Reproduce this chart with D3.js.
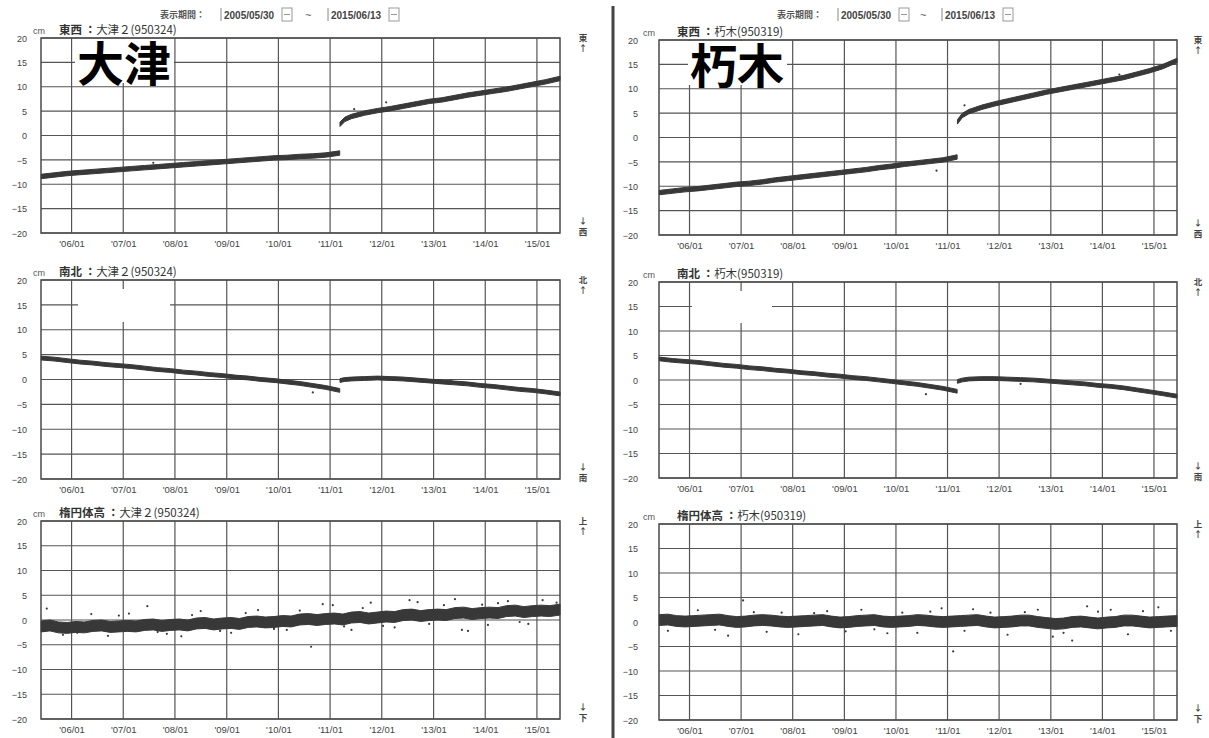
<!DOCTYPE html>
<html>
<head>
<meta charset="utf-8">
<script src="https://cdnjs.cloudflare.com/ajax/libs/d3/7.8.5/d3.min.js"></script>
<style>
  body { margin: 0; background: #fff; position: relative; }
  svg { display: block; }
  svg text { font-family: "Liberation Sans", Arial, "Noto Sans CJK JP", sans-serif; fill: #333; }
  .jp { font-family: "Noto Sans CJK JP", sans-serif; }
  .grid line { stroke: #555; stroke-width: 1.2; }
  .frame { fill: none; stroke: #4a4a4a; stroke-width: 1.5; }
  .tick text { font-size: 9px; fill: #444; }
  .band { fill: #383838; stroke: #383838; stroke-width: 1; }
  .dot { fill: #3a3a3a; }
  .bigname { position: absolute; font-family: "Noto Sans CJK JP", sans-serif; font-weight: bold;
             font-size: 47px; line-height: 44px; height: 44px; background: #fff; color: #000;
             padding: 0 3px 0 2px; white-space: nowrap; }
</style>
</head>
<body>
<svg id="chart" width="1209" height="738"></svg>
<script>
// GNSS displacement (cm), 2005/05/30 - 2015/06/13, two stations, three components

const startDate = "2005-05-30", endDate = "2015-06-13";
const yTicks = [-20, -15, -10, -5, 0, 5, 10, 15, 20];
const xTickDates = ["2006-01", "2007-01", "2008-01", "2009-01", "2010-01",
                    "2011-01", "2012-01", "2013-01", "2014-01", "2015-01"];
const components = ["東西", "南北", "楕円体高"];
const arrowChars = [["東", "西"], ["北", "南"], ["上", "下"]];
const stations = ["大津２(950324)", "朽木(950319)"];
const bigNames = ["大津", "朽木"];

// quarterly samples before / after the 2011-03-11 offset
const preDates = ["2005-06", "2005-09", "2005-12", "2006-03", "2006-06", "2006-09", "2006-12",
  "2007-03", "2007-06", "2007-09", "2007-12", "2008-03", "2008-06", "2008-09", "2008-12",
  "2009-03", "2009-06", "2009-09", "2009-12", "2010-03", "2010-06", "2010-09", "2010-12", "2011-03-10"];
const postDates = ["2011-03-12", "2011-04-15", "2011-06", "2011-09", "2011-12",
  "2012-03", "2012-06", "2012-09", "2012-12", "2013-03", "2013-06", "2013-09", "2013-12",
  "2014-03", "2014-06", "2014-09", "2014-12", "2015-03", "2015-06-13"];

const ewOtsuPre = [-8.4, -8.1, -7.8, -7.6, -7.4, -7.2, -7.0, -6.8, -6.6, -6.4, -6.2, -6.0, -5.8,
  -5.6, -5.4, -5.2, -5.0, -4.8, -4.6, -4.5, -4.3, -4.2, -4.0, -3.6];
const ewOtsuPost = [2.3, 3.3, 3.9, 4.6, 5.1, 5.5, 6.0, 6.5, 7.0, 7.3, 7.8, 8.3, 8.7,
  9.1, 9.5, 10.0, 10.5, 11.0, 11.7];
const ewKutsukiPre = [-11.3, -11.0, -10.7, -10.5, -10.2, -9.9, -9.6, -9.4, -9.1, -8.7, -8.4, -8.1,
  -7.8, -7.5, -7.2, -6.9, -6.6, -6.2, -5.9, -5.5, -5.2, -4.9, -4.6, -4.0];
const ewKutsukiPost = [3.2, 4.5, 5.3, 6.2, 6.9, 7.5, 8.1, 8.7, 9.3, 9.8, 10.3, 10.8, 11.3,
  11.8, 12.3, 13.0, 13.7, 14.5, 15.8];

const nsOtsuPre = [4.3, 4.1, 3.8, 3.5, 3.3, 3.0, 2.8, 2.6, 2.3, 2.0, 1.8, 1.5, 1.3, 1.0, 0.8,
  0.5, 0.3, 0.0, -0.2, -0.5, -0.8, -1.2, -1.6, -2.2];
const nsOtsuPost = [-0.2, 0.0, 0.1, 0.2, 0.3, 0.2, 0.1, -0.1, -0.3, -0.5, -0.7, -0.9, -1.2,
  -1.4, -1.7, -2.0, -2.2, -2.5, -2.9];
const nsKutsukiPre = [4.3, 4.0, 3.8, 3.6, 3.3, 3.0, 2.8, 2.5, 2.3, 2.0, 1.8, 1.5, 1.3, 1.0, 0.8,
  0.5, 0.3, 0.0, -0.3, -0.6, -0.9, -1.3, -1.7, -2.3];
const nsKutsukiPost = [-0.3, 0.0, 0.2, 0.3, 0.3, 0.2, 0.1, 0.0, -0.2, -0.4, -0.6, -0.8, -1.1,
  -1.3, -1.6, -2.0, -2.4, -2.8, -3.3];

// bimonthly samples for ellipsoidal height
const upDates = ["2005-06", "2005-08", "2005-10", "2005-12",
  "2006-02", "2006-04", "2006-06", "2006-08", "2006-10", "2006-12",
  "2007-02", "2007-04", "2007-06", "2007-08", "2007-10", "2007-12",
  "2008-02", "2008-04", "2008-06", "2008-08", "2008-10", "2008-12",
  "2009-02", "2009-04", "2009-06", "2009-08", "2009-10", "2009-12",
  "2010-02", "2010-04", "2010-06", "2010-08", "2010-10", "2010-12",
  "2011-02", "2011-04", "2011-06", "2011-08", "2011-10", "2011-12",
  "2012-02", "2012-04", "2012-06", "2012-08", "2012-10", "2012-12",
  "2013-02", "2013-04", "2013-06", "2013-08", "2013-10", "2013-12",
  "2014-02", "2014-04", "2014-06", "2014-08", "2014-10", "2014-12",
  "2015-02", "2015-04", "2015-06-13"];
const upOtsu = [-1.3, -1.1, -1.5, -1.6,
  -1.4, -1.5, -1.2, -1.1, -1.4, -1.3,
  -1.2, -1.3, -1.0, -0.9, -1.2, -1.0,
  -0.9, -1.1, -0.7, -0.6, -0.9, -0.7,
  -0.6, -0.8, -0.4, -0.3, -0.5, -0.4,
  -0.2, -0.3, 0.1, 0.2, 0.0, 0.2,
  0.3, 0.1, 0.5, 0.6, 0.3, 0.5,
  0.7, 0.6, 1.0, 1.1, 0.8, 1.0,
  1.1, 1.0, 1.4, 1.5, 1.2, 1.4,
  1.5, 1.4, 1.8, 1.9, 1.6, 1.8,
  1.9, 1.8, 2.1];
const upKutsuki = [0.4, 0.5, 0.2, 0.1,
  0.2, 0.3, 0.4, 0.5, 0.2, 0.0,
  0.1, 0.3, 0.4, 0.3, 0.1, 0.0,
  0.1, 0.2, 0.3, 0.4, 0.1, -0.1,
  0.0, 0.2, 0.3, 0.4, 0.1, 0.0,
  0.1, 0.2, 0.4, 0.3, 0.1, 0.0,
  0.1, 0.2, 0.3, 0.4, 0.1, -0.1,
  0.0, 0.1, 0.3, 0.3, 0.0, -0.2,
  -0.4, -0.3, 0.0, 0.1, -0.1, -0.3,
  -0.1, 0.0, 0.3, 0.3, 0.1, -0.1,
  0.0, 0.1, 0.2];

// scattered points outside the main band
const dotsOtsuUp = [["2005-07-10", 2.3], ["2005-11-01", -3.0], ["2006-02-10", -2.6], ["2006-05-20", 1.2],
  ["2006-09-15", -3.2], ["2006-12-01", 0.9], ["2007-02-10", 1.3], ["2007-06-20", 2.8],
  ["2007-09-01", -2.4], ["2007-11-05", -2.8], ["2008-02-15", -3.3], ["2008-05-01", 1.0],
  ["2008-07-01", 1.8], ["2008-11-15", -2.2], ["2009-02-01", -2.6], ["2009-05-15", 1.4],
  ["2009-08-10", 2.0], ["2009-12-01", -1.8], ["2010-03-01", -2.0], ["2010-06-01", 1.9],
  ["2010-08-20", -5.4], ["2010-11-10", 3.2], ["2011-01-20", 3.0], ["2011-04-10", -1.3],
  ["2011-06-01", -2.0], ["2011-08-20", 2.4], ["2011-10-15", 3.5], ["2012-01-10", -1.2],
  ["2012-04-01", -1.5], ["2012-07-15", 4.0], ["2012-09-10", 3.6], ["2012-12-01", -0.8],
  ["2013-03-15", 3.0], ["2013-06-01", 4.2], ["2013-07-20", -2.0], ["2013-09-01", -2.2],
  ["2013-12-10", 3.1], ["2014-01-20", -1.0], ["2014-04-01", 3.4], ["2014-06-10", 3.8],
  ["2014-09-01", -0.4], ["2014-11-01", -0.8], ["2015-02-10", 4.0], ["2015-05-20", 3.5]];
const dotsKutsukiUp = [["2005-08-01", -1.8], ["2006-03-01", 2.4], ["2006-07-01", -1.6], ["2006-10-01", -2.8],
  ["2007-01-15", 4.4], ["2007-04-01", 2.0], ["2007-07-01", -2.0], ["2007-10-15", 1.9],
  ["2008-02-10", -2.5], ["2008-06-01", 1.8], ["2008-09-01", 2.2], ["2009-01-10", -1.9],
  ["2009-05-01", 2.5], ["2009-08-01", -1.5], ["2009-11-01", -2.3], ["2010-02-15", 1.9],
  ["2010-06-01", -2.2], ["2010-09-01", 2.1], ["2010-11-20", 2.8], ["2011-02-10", -6.0],
  ["2011-05-01", -1.8], ["2011-07-01", 2.6], ["2011-11-01", 1.9], ["2012-03-01", -2.6],
  ["2012-07-01", 2.0], ["2012-10-01", 2.5], ["2013-01-15", -3.0], ["2013-04-01", -2.2],
  ["2013-06-01", -3.8], ["2013-09-15", 3.2], ["2013-12-01", 2.1], ["2014-03-01", 2.5],
  ["2014-07-01", -2.5], ["2014-10-15", 2.2], ["2015-02-01", 3.0], ["2015-05-01", -1.8]];
const dotsOtsuEw = [["2011-06-20", 5.4], ["2012-02-01", 6.8], ["2007-08-01", -5.6]];
const dotsKutsukiEw = [["2010-10-15", -6.8], ["2011-05-01", 6.6], ["2014-05-01", 12.9]];
const dotsOtsuNs = [["2010-09-01", -2.6], ["2013-05-01", -0.2]];
const dotsKutsukiNs = [["2010-08-01", -2.9], ["2012-06-01", -0.8]];

// band half-width (cm) per component
const bandSpread = [0.45, 0.38, 1.1];

const seriesByStation = [
  [[[preDates, ewOtsuPre], [postDates, ewOtsuPost]],
   [[preDates, nsOtsuPre], [postDates, nsOtsuPost]],
   [[upDates, upOtsu]]],
  [[[preDates, ewKutsukiPre], [postDates, ewKutsukiPost]],
   [[preDates, nsKutsukiPre], [postDates, nsKutsukiPost]],
   [[upDates, upKutsuki]]]
];
const dotsByStation = [[dotsOtsuEw, dotsOtsuNs, dotsOtsuUp], [dotsKutsukiEw, dotsKutsukiNs, dotsKutsukiUp]];

// LAYOUT
const columns = [
  { x0: 41, x1: 560, labelX: 27, cmX: 33, arrowX: 583, bigX: 75,
    rows: [[38, 233], [280, 479], [521, 719]], erase: [78, 289, 92, 33],
    head: { label: 160, box1: 221, tilde: 305, box2: 328 } },
  { x0: 659, x1: 1177, labelX: 638, cmX: 643, arrowX: 1198, bigX: 688,
    rows: [[40, 235], [282, 478], [524, 720]], erase: [692, 291, 80, 32],
    head: { label: 777, box1: 838, tilde: 920, box2: 942 } }
];

const parse = s => d3.timeParse("%Y-%m-%d")(s.length === 7 ? s + "-01" : s);
const svg = d3.select("#chart");

// column separator
svg.append("line")
  .attr("x1", 613).attr("x2", 613).attr("y1", 6).attr("y2", 738)
  .style("stroke", "#444").style("stroke-width", 3);

columns.forEach((col, ci) => {
  const x = d3.scaleTime()
    .domain([parse(startDate), parse(endDate)])
    .range([col.x0, col.x1]);

  // header: display period
  const hd = svg.append("g").attr("class", "header");
  hd.append("text").attr("class", "jp")
    .attr("x", col.head.label).attr("y", 18)
    .style("font-size", "9px").style("font-weight", "bold").style("fill", "#555")
    .text("表示期間：");
  [[col.head.box1, startDate], [col.head.box2, endDate]].forEach(([bx, d]) => {
    hd.append("line").attr("x1", bx).attr("x2", bx).attr("y1", 8).attr("y2", 21)
      .style("stroke", "#888");
    hd.append("text").attr("x", bx + 3).attr("y", 19)
      .style("font-size", "10px").style("font-weight", "bold").style("fill", "#444")
      .text(d.replace(/-/g, "/"));
    hd.append("rect").attr("x", bx + 61).attr("y", 8).attr("width", 10).attr("height", 13)
      .style("fill", "#fff").style("stroke", "#999");
    hd.append("line").attr("x1", bx + 63).attr("x2", bx + 69).attr("y1", 14.5).attr("y2", 14.5)
      .style("stroke", "#999");
  });
  hd.append("text").attr("x", col.head.tilde).attr("y", 19)
    .style("font-size", "11px").style("fill", "#555").text("~");

  col.rows.forEach(([top, bot], ri) => {
    const y = d3.scaleLinear().domain([-20, 20]).range([bot, top]);
    const g = svg.append("g");

    // gridlines
    const grid = g.append("g").attr("class", "grid");
    grid.selectAll("line.h").data(yTicks).join("line").attr("class", "h")
      .attr("x1", col.x0).attr("x2", col.x1)
      .attr("y1", d => y(d)).attr("y2", d => y(d));
    grid.selectAll("line.v").data(xTickDates).join("line").attr("class", "v")
      .attr("x1", d => x(parse(d))).attr("x2", d => x(parse(d)))
      .attr("y1", top).attr("y2", bot);
    g.append("rect").attr("class", "frame")
      .attr("x", col.x0).attr("y", top)
      .attr("width", col.x1 - col.x0).attr("height", bot - top);

    // erased patch in the N-S panel
    if (ri === 1) {
      const [ex, ey, ew, eh] = col.erase;
      g.append("rect").attr("x", ex).attr("y", ey).attr("width", ew).attr("height", eh)
        .style("fill", "#fff");
    }

    // big station name on the E-W panel (white box hides the grid behind it)
    if (ri === 0) {
      d3.select("body").append("div").attr("class", "bigname")
        .style("left", col.bigX + "px").style("top", (top + 1) + "px")
        .text(bigNames[ci]);
    }

    // data band
    const spread = bandSpread[ri];
    const area = d3.area()
      .x(d => x(d.date))
      .y0(d => y(d.v - spread))
      .y1(d => y(d.v + spread));
    seriesByStation[ci][ri].forEach(([dates, vals]) => {
      const pts = dates.map((d, i) => ({ date: parse(d), v: vals[i] }));
      g.append("path").datum(pts).attr("class", "band").attr("d", area);
    });
    g.selectAll("circle.dot").data(dotsByStation[ci][ri]).join("circle").attr("class", "dot")
      .attr("cx", d => x(parse(d[0]))).attr("cy", d => y(d[1])).attr("r", 1.1);

    // y axis labels
    g.append("g")
      .attr("transform", `translate(${col.labelX},0)`)
      .call(d3.axisLeft(y).tickValues(yTicks).tickSize(0).tickPadding(0))
      .call(a => a.select(".domain").remove())
      .selectAll("text").attr("dy", "0.35em");

    // x axis labels
    g.append("g")
      .attr("transform", `translate(0,${bot})`)
      .call(d3.axisBottom(x).tickValues(xTickDates.map(parse))
        .tickFormat(d3.timeFormat("'%y/%m")).tickSize(0).tickPadding(7))
      .call(a => a.select(".domain").remove())
      .selectAll("text").style("font-size", "9.5px");

    // unit + title
    g.append("text").attr("x", col.cmX).attr("y", top - 4)
      .style("font-size", "9px").style("fill", "#555").text("cm");
    g.append("text").attr("class", "jp")
      .attr("x", col.x0 + 18).attr("y", top - 4)
      .style("font-size", "11.5px").style("fill", "#333")
      .html(`<tspan font-weight="bold">${components[ri]} ：</tspan>${stations[ci]}`);

    // direction markers
    const [upC, downC] = arrowChars[ri];
    const mk = (txt, yy) => g.append("text").attr("class", "jp")
      .attr("x", col.arrowX).attr("y", yy).attr("text-anchor", "middle")
      .style("font-size", "8.5px").style("font-weight", "bold").style("fill", "#444").text(txt);
    mk(upC, top + 3);
    mk("↑", top + 13);
    mk("↓", bot - 9);
    mk(downC, bot + 2);
  });
});
</script>
</body>
</html>
